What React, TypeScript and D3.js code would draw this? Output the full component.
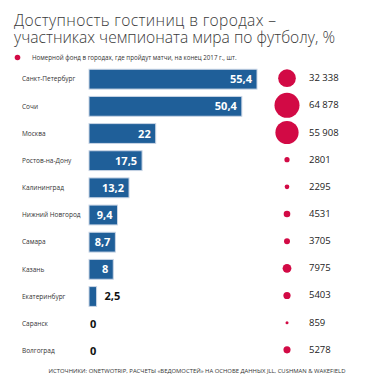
import React from 'react';
import * as d3 from 'd3';

const cities = ['Санкт-Петербург', 'Сочи', 'Москва', 'Ростов-на-Дону', 'Калининград', 'Нижний Новгород', 'Самара', 'Казань', 'Екатеринбург', 'Саранск', 'Волгоград'];
const availability = [55.4, 50.4, 22, 17.5, 13.2, 9.4, 8.7, 8, 2.5, 0, 0];
const rooms = [32338, 64878, 55908, 2801, 2295, 4531, 3705, 7975, 5403, 859, 5278];
const titleLines = ['Доступность гостиниц в городах –', 'участниках чемпионата мира по футболу, %'];

const W = 367;
const H = 380;
const blue = '#1f5f99';
const red = '#d20a45';
const font = '"Open Sans", "DejaVu Sans", sans-serif';

const fmtPct = (v: number) => String(v).replace('.', ',');
const fmtRooms = (v: number) => (v >= 10000 ? d3.format(',')(v).replace(',', ' ') : String(v));

export default function App() {
    const y = d3.scaleBand<string>().domain(cities).range([66, 364]).paddingInner(0.27).paddingOuter(0.12);
    const x = d3.scaleLinear().domain([0, 55.4]).range([89, 257]);
    const r = d3.scaleSqrt().domain([0, 64878]).range([0, 12.5]);
    const dotX = 287;

    return (
        <svg width={W} height={H} style={{ position: 'absolute', left: 0, top: 0, background: '#fff' }} fontFamily={font}>
            <text fontSize={15.6} fontWeight={300} fill="#3a3a3a">
                <tspan x={14} y={26} textLength={262} lengthAdjust="spacing">{titleLines[0]}</tspan>
                <tspan x={14} y={42.5} textLength={321} lengthAdjust="spacing">{titleLines[1]}</tspan>
            </text>

            <circle cx={17.5} cy={57.5} r={2.8} fill={red} />
            <text x={32} y={59.5} fontSize={6.2} fill="#333">Номерной фонд в городах, где пройдут матчи, на конец 2017 г., шт.</text>

            {cities.map((c, i) => {
                const by = y(c)!;
                const bh = y.bandwidth();
                const cy = by + bh / 2;
                const v = availability[i];
                const w = x(v) - x(0);
                const inside = w > 20;
                return (
                    <g key={c}>
                        <text x={22} y={cy + 2.3} fontSize={6.5} fill="#333">{c}</text>
                        {v > 0 && (
                            <rect x={x(0)} y={by} width={w} height={bh} fill={blue} stroke="#c9d5e5" strokeWidth={1} />
                        )}
                        <text
                            x={inside ? x(v) - 5 : v > 0 ? x(v) + 8 : x(0) + 1}
                            y={cy + 4}
                            fontSize={11}
                            fontWeight={700}
                            textAnchor={inside ? 'end' : 'start'}
                            fill={inside ? '#fff' : '#111'}
                        >
                            {fmtPct(v)}
                        </text>
                        <circle cx={dotX} cy={cy - 1} r={Math.max(r(rooms[i]), 1.5)} fill={red} />
                        <text x={309} y={cy + 2} fontSize={9.5} fill="#222">{fmtRooms(rooms[i])}</text>
                    </g>
                );
            })}

            <text x={197} y={373} fontSize={5.9} textAnchor="middle" fill="#333">
                ИСТОЧНИКИ: ONETWOTRIP, РАСЧЕТЫ «ВЕДОМОСТЕЙ» НА ОСНОВЕ ДАННЫХ JLL, CUSHMAN &amp; WAKEFIELD
            </text>
        </svg>
    );
}
